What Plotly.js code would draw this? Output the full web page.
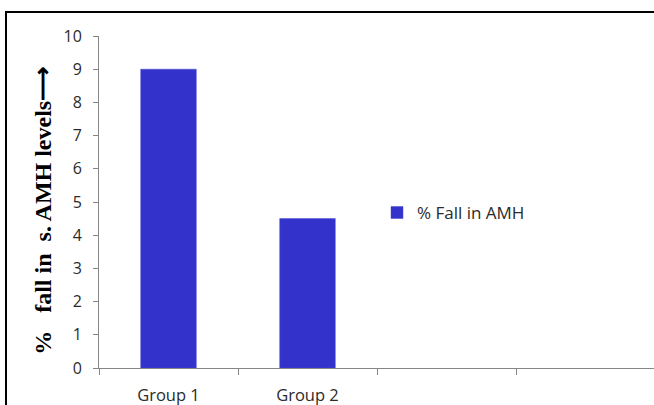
<!DOCTYPE html>
<html>
<head>
<meta charset="utf-8">
<script src="https://cdn.plot.ly/plotly-3.0.1.min.js"></script>
<style>
html,body{margin:0;padding:0;background:#fff;overflow:hidden;width:654px;height:405px;}
#frame{position:absolute;left:5px;top:11px;width:700px;height:450px;border-left:2px solid #000;border-top:2px solid #000;}
#chart{position:absolute;left:0;top:0;width:700px;height:405px;}
</style>
</head>
<body>
<div id="frame"></div>
<div id="chart"></div>
<script>
const categories = ["Group 1", "Group 2", "\u00a0", "\u00a0\u00a0"];
const fallValues = [9, 4.5, null, null];
const seriesName = "% Fall in AMH";
const yTitle = "%\u00a0\u00a0 fall in\u00a0 s. AMH levels\u27f6";
const yTicks = [0,1,2,3,4,5,6,7,8,9,10];

const trace = {
  type: "bar",
  x: categories,
  y: fallValues,
  name: seriesName,
  width: 0.4,
  marker: {color: "#3333CC", line: {color: "#4a4ad6", width: 0.5}},
  showlegend: true,
  hoverinfo: "none"
};

const layout = {
  width: 700, height: 405,
  margin: {l: 99, r: 45, t: 36, b: 37},
  paper_bgcolor: "rgba(0,0,0,0)",
  plot_bgcolor: "rgba(0,0,0,0)",
  showlegend: true,
  font: {family: "Open Sans, sans-serif", size: 16, color: "#2b2b2b"},
  xaxis: {
    type: "category",
    categoryorder: "array",
    categoryarray: categories,
    range: [-0.5, 3.5],
    tickson: "boundaries",
    ticks: "outside", ticklen: 6, tickcolor: "#868686", tickwidth: 1,
    showline: true, linecolor: "#868686", linewidth: 1,
    showgrid: false, zeroline: false,
    ticklabelstandoff: 12,
    tickfont: {family: "Open Sans, sans-serif", size: 16.5, color: "#2b2b2b"}
  },
  yaxis: {
    range: [0, 10],
    tickmode: "array", tickvals: yTicks,
    ticks: "outside", ticklen: 5, tickcolor: "#868686", tickwidth: 1,
    showline: true, linecolor: "#868686", linewidth: 1,
    showgrid: false, zeroline: false,
    ticklabelstandoff: 8,
    tickfont: {family: "Open Sans, sans-serif", size: 16, color: "#2b2b2b"}
  },
  annotations: [{
    text: yTitle,
    xref: "paper", yref: "paper",
    x: -0.101, y: 0.473,
    xanchor: "center", yanchor: "middle",
    textangle: -90,
    showarrow: false,
    font: {family: "Liberation Serif, Times New Roman, serif", size: 24, color: "#000", weight: "bold"}
  }],
  legend: {
    x: 0.5, xanchor: "left", y: 0.467, yanchor: "middle",
    bgcolor: "rgba(0,0,0,0)",
    font: {family: "Open Sans, sans-serif", size: 17, color: "#2b2b2b"},
    itemwidth: 30
  }
};

Plotly.newPlot("chart", [trace], layout, {displayModeBar: false, staticPlot: true});
</script>
</body>
</html>
